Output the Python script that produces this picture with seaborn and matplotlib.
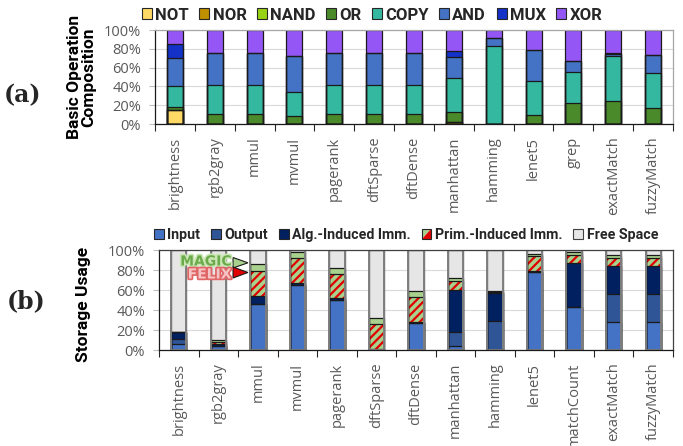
import numpy as np
import pandas as pd
import matplotlib
matplotlib.use("Agg")
import matplotlib.pyplot as plt
import matplotlib.patheffects as pe
from matplotlib.patches import Patch, Polygon, Rectangle
from matplotlib.legend_handler import HandlerBase
import seaborn as sns

sns.set_theme(style="white")
plt.rcParams["font.family"] = ["Open Sans", "DejaVu Sans"]
plt.rcParams["hatch.linewidth"] = 1.6

# ---------------- (a) basic operation composition (%) ----------------
ops_benchmarks = ["brightness", "rgb2gray", "mmul", "mvmul", "pagerank", "dftSparse",
                  "dftDense", "manhattan", "hamming", "lenet5", "grep",
                  "exactMatch", "fuzzyMatch"]
op_not  = [15, 0, 0, 0, 0, 0, 0, 0, 0, 0, 0, 0, 0]
op_nor  = [0, 0, 0, 0, 0, 0, 0, 2.5, 0, 0, 0, 0, 0]
op_nand = [0, 0, 0, 0, 0, 0, 0, 0, 0, 0, 0, 0, 0]
op_or   = [3, 11, 11, 9, 11, 11, 11, 10.5, 0, 9.5, 22, 24, 17.5]
op_copy = [22, 30, 31, 25.5, 30, 30, 30, 36, 82.5, 36.5, 33, 48.5, 36.5]
op_and  = [30, 35, 34, 38, 35, 35, 35, 22, 8.5, 33, 12, 1.5, 19]
op_mux  = [15, 0, 0, 0, 0, 0, 0, 6.5, 0, 0, 0, 2, 0]
op_xor  = [15, 24, 24, 27.5, 24, 24, 24, 22.5, 9, 21, 33, 24, 27]
op_names = ["NOT", "NOR", "NAND", "OR", "COPY", "AND", "MUX", "XOR"]
op_colors = ["#FFD966", "#BF9000", "#99D414", "#4A8A2A", "#35B8A0",
             "#4472C4", "#1432C8", "#9457F5"]

# ---------------- (b) storage usage (%) ----------------
mem_benchmarks = ["brightness", "rgb2gray", "mmul", "mvmul", "pagerank", "dftSparse",
                  "dftDense", "manhattan", "hamming", "lenet5", "matchCount",
                  "exactMatch", "fuzzyMatch"]
st_input  = [6, 4.5, 46.5, 65.5, 50.5, 0, 27.5, 4, 0, 78, 43.5, 28, 28]
st_output = [5.5, 0, 0, 0, 0, 0, 0, 14.5, 29, 0, 0, 28.5, 28.5]
st_alg    = [6.5, 2, 8, 1.5, 1.5, 1.5, 0.5, 42, 28, 1, 43.5, 28, 28]
st_felix  = [0, 2, 24.5, 25.5, 24.5, 24.5, 25.5, 8.5, 1, 15.5, 8.5, 7.5, 7.5]
st_magic  = [0, 2, 7, 5.5, 6, 6.5, 6, 3, 1.5, 1.5, 2.5, 3.5, 3.5]
st_free   = [100 - sum(v) for v in zip(st_input, st_output, st_alg, st_felix, st_magic)]

C_INPUT, C_OUTPUT, C_ALG = "#4472C4", "#2F5597", "#002060"
C_GREEN, C_RED, C_FREE = "#A9D18E", "#E00000", "#E7E6E6"

TICK_GRAY = "#595959"
BOLD = ["Roboto", "DejaVu Sans"]


def stacked_bars(ax, cats, layers, fills, hatches, width, edge="#1a1a1a", edge_lw=0.9):
    cum = np.cumsum(np.asarray(layers, dtype=float), axis=0)
    # fills: draw tallest cumulative bar first so each lower layer sits on top
    for i in range(len(layers) - 1, -1, -1):
        df = pd.DataFrame({"bench": cats, "pct": cum[i]})
        hatched = hatches[i] is not None
        sns.barplot(data=df, x="bench", y="pct", order=cats, color=fills[i],
                    saturation=1, width=width, errorbar=None, ax=ax,
                    facecolor=fills[i], linewidth=0,
                    edgecolor=C_RED if hatched else fills[i],
                    hatch=hatches[i])
    # segment boundaries
    for i in range(len(layers)):
        df = pd.DataFrame({"bench": cats, "pct": cum[i]})
        sns.barplot(data=df, x="bench", y="pct", order=cats, color=edge,
                    saturation=1, width=width, errorbar=None, ax=ax,
                    fill=False, linewidth=edge_lw, edgecolor=edge)
    return cum


def style_axis(ax, cats, frame_color):
    n = len(cats)
    ax.set_xlim(-0.5, n - 0.5)
    ax.set_ylim(0, 100)
    ax.set_xlabel("")
    ax.set_ylabel("")
    ax.set_axisbelow(True)
    ax.yaxis.grid(True, color="#D9D9D9", linewidth=0.8)
    ax.xaxis.grid(False)
    ax.set_yticks([0, 20, 40, 60, 80, 100])
    ax.set_yticklabels([f"{v}%" for v in [0, 20, 40, 60, 80, 100]])
    ax.set_xticks(range(n))
    ax.set_xticklabels(cats, rotation=90)
    ax.set_xticks(np.arange(-0.5, n, 1.0), minor=True)
    ax.tick_params(axis="x", which="major", length=0, pad=9, labelsize=10.5,
                   labelcolor=TICK_GRAY, bottom=True)
    ax.tick_params(axis="x", which="minor", length=5, width=0.8, color="#262626",
                   bottom=True, direction="out")
    ax.tick_params(axis="y", length=4, width=0.8, color="#BFBFBF", left=True,
                   labelsize=10.5, labelcolor=TICK_GRAY, pad=6)
    for s in ["left", "bottom"]:
        ax.spines[s].set_color("#1a1a1a")
        ax.spines[s].set_linewidth(0.9)
    for s in ["top", "right"]:
        ax.spines[s].set_color(frame_color)
        ax.spines[s].set_linewidth(0.9)


fig = plt.figure(figsize=(6.83, 4.46), dpi=100)
W, H = 683, 446
ax_a = fig.add_axes([155 / W, 1 - 124 / H, 518 / W, 94 / H])
ax_b = fig.add_axes([159 / W, 1 - 350 / H, 514 / W, 100 / H])

# ---- panel (a)
stacked_bars(ax_a, ops_benchmarks,
             [op_not, op_nor, op_nand, op_or, op_copy, op_and, op_mux, op_xor],
             op_colors, [None] * 8, width=0.4)
style_axis(ax_a, ops_benchmarks, "#A6A6A6")
ax_a.set_ylabel("Basic Operation\nComposition", fontsize=12.5, fontweight="bold",
                family=BOLD, color="black", linespacing=0.95)
ax_a.yaxis.set_label_coords(-0.113, 0.5)

# ---- panel (b)
stacked_bars(ax_b, mem_benchmarks,
             [st_input, st_output, st_alg, st_felix, st_magic, st_free],
             [C_INPUT, C_OUTPUT, C_ALG, C_GREEN, C_GREEN, C_FREE],
             [None, None, None, "////", None, None], width=0.39)
# grey outline around each full column
sns.barplot(x=mem_benchmarks, y=[100] * len(mem_benchmarks), order=mem_benchmarks,
            color="#7F7F7F", saturation=1, width=0.39, errorbar=None, ax=ax_b,
            fill=False, linewidth=1.4, edgecolor="#7F7F7F")
style_axis(ax_b, mem_benchmarks, "#404040")
ax_b.set_ylabel("Storage Usage", fontsize=12.5, fontweight="bold", family=BOLD,
                color="black")
ax_b.yaxis.set_label_coords(-0.132, 0.46)

# MAGIC / FELIX markers
tri_g = Polygon([[0.144, 0.925], [0.144, 0.82], [0.173, 0.872]], closed=True,
                transform=ax_b.transAxes, facecolor=C_GREEN, edgecolor="#1a1a1a",
                linewidth=0.8, clip_on=False, zorder=5)
tri_r = Polygon([[0.144, 0.83], [0.144, 0.72], [0.173, 0.775]], closed=True,
                transform=ax_b.transAxes, facecolor=C_RED, edgecolor="#1a1a1a",
                linewidth=0.8, clip_on=False, zorder=6)
ax_b.add_patch(tri_g)
ax_b.add_patch(tri_r)
ax_b.text(0.141, 0.885, "MAGIC", transform=ax_b.transAxes, ha="right", va="center",
          fontsize=10, fontweight="bold", family=["DejaVu Sans"], color="#6BAA4A",
          zorder=7, path_effects=[pe.withStroke(linewidth=2.5, foreground="#C9E6B4")])
ax_b.text(0.141, 0.755, "FELIX", transform=ax_b.transAxes, ha="right", va="center",
          fontsize=10, fontweight="bold", family=["DejaVu Sans"], color="#F6C4C4",
          zorder=7, path_effects=[pe.withStroke(linewidth=2.5, foreground="#E06666")])

# panel tags
fig.text(22 / W, 1 - 95 / H, "(a)", fontsize=17, fontweight="bold",
         family=["DejaVu Serif"], ha="center", va="center")
fig.text(26 / W, 1 - 301 / H, "(b)", fontsize=17, fontweight="bold",
         family=["DejaVu Serif"], ha="center", va="center")

# ---- legends
leg_a_handles = [Patch(facecolor=c, edgecolor="#262626", linewidth=0.8) for c in op_colors]
fig.legend(leg_a_handles, op_names, loc="center left",
           bbox_to_anchor=(142 / W, 1 - 15 / H), ncol=8, frameon=False,
           handlelength=0.6, handleheight=0.6, handletextpad=0.2,
           columnspacing=0.62, borderpad=0, borderaxespad=0,
           prop={"family": BOLD, "weight": "bold", "size": 12})


class SplitSquare(HandlerBase):
    def create_artists(self, legend, orig_handle, xdescent, ydescent, width, height,
                       fontsize, trans):
        s = height
        x0, y0 = -xdescent, -ydescent
        up = Polygon([[x0, y0], [x0, y0 + s], [x0 + s, y0 + s]], closed=True,
                     facecolor=C_GREEN, edgecolor="none", transform=trans)
        lo = Polygon([[x0, y0], [x0 + s, y0], [x0 + s, y0 + s]], closed=True,
                     facecolor=C_RED, edgecolor="none", transform=trans)
        fr = Rectangle((x0, y0), s, s, facecolor="none", edgecolor="#262626",
                       linewidth=0.8, transform=trans)
        return [up, lo, fr]


prim_handle = Patch(facecolor=C_GREEN)
leg_b_handles = [Patch(facecolor=C_INPUT, edgecolor="#262626", linewidth=0.8),
                 Patch(facecolor=C_OUTPUT, edgecolor="#262626", linewidth=0.8),
                 Patch(facecolor=C_ALG, edgecolor="#262626", linewidth=0.8),
                 prim_handle,
                 Patch(facecolor=C_FREE, edgecolor="#404040", linewidth=0.8)]
leg_b_labels = ["Input", "Output", "Alg.-Induced Imm.", "Prim.-Induced Imm.", "Free Space"]
fig.legend(leg_b_handles, leg_b_labels, loc="center left",
           bbox_to_anchor=(154 / W, 1 - 235 / H), ncol=5, frameon=False,
           handlelength=0.7, handleheight=0.7, handletextpad=0.25,
           columnspacing=0.75, borderpad=0, borderaxespad=0,
           handler_map={prim_handle: SplitSquare()},
           prop={"family": BOLD, "weight": "bold", "size": 10.2})

fig.savefig("out.png", dpi=100)
